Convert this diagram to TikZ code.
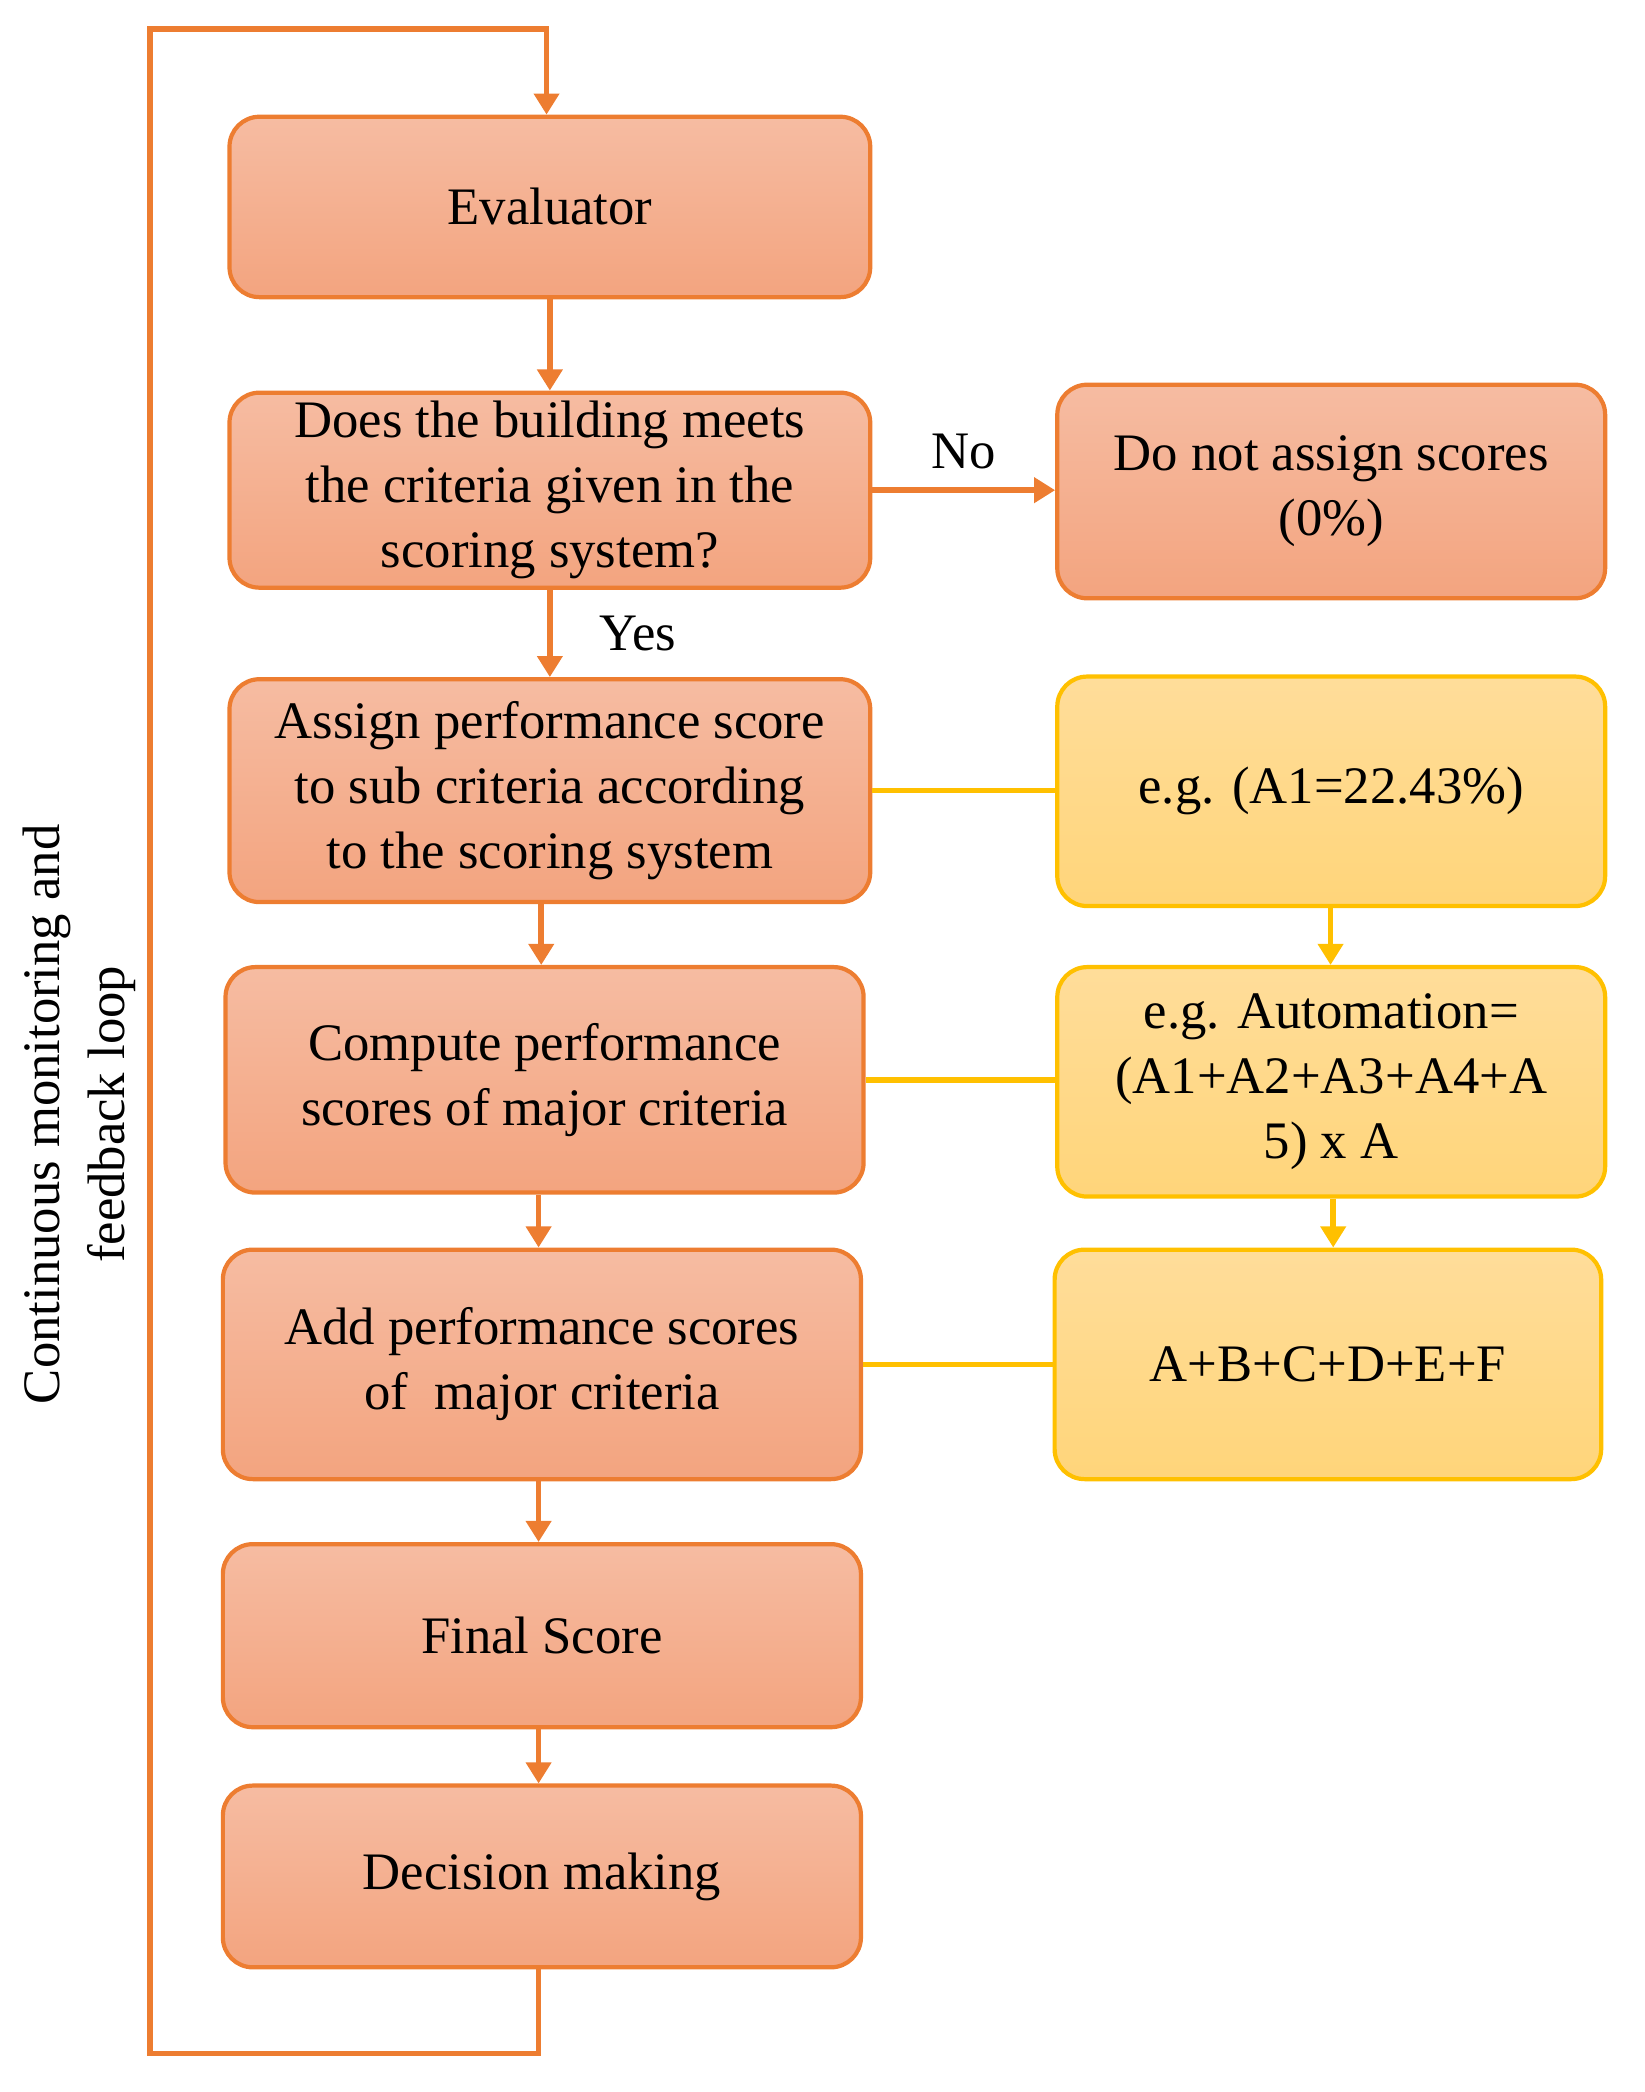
\documentclass[tikz,border=0pt]{standalone}
\usepackage{fontspec}
\setmainfont{Liberation Serif}
\usetikzlibrary{arrows.meta}
\definecolor{ob}{HTML}{ED7D31}
\definecolor{otop}{HTML}{F6BCA2}
\definecolor{obot}{HTML}{F3A47F}
\definecolor{yb}{HTML}{FFC000}
\definecolor{ytop}{HTML}{FFDD9A}
\definecolor{ybot}{HTML}{FFD57A}
\begin{document}
\begin{tikzpicture}[x=0.01327cm,y=-0.01327cm,
 box/.style={draw=ob,line width=1.2pt,rounded corners=0.3cm,top color=otop,bottom color=obot,align=center,font=\fontsize{15}{18.5}\selectfont,inner sep=0pt},
 ybox/.style={box,draw=yb,top color=ytop,bottom color=ybot},
 arr/.style={draw=ob,line width=1.6pt,-{Triangle[length=6pt,width=7pt]}},
 yarr/.style={draw=yb,line width=1.6pt,-{Triangle[length=6pt,width=7pt]}},
 yl/.style={draw=yb,line width=1.6pt}]
\useasboundingbox (0,0) rectangle (1240,1577);
\newcommand{\bx}[6]{\node[#1,minimum width={(#4-#3)*0.01327cm},minimum height={(#6-#5)*0.01327cm}] (#2) at ({(#3+#4)/2},{(#5+#6)/2})}
\bx{box}{ev}{173}{656}{88}{224} {Evaluator};
\bx{box}{q}{173}{656}{296}{443} {Does the building meets\\the criteria given in the\\scoring system?};
\bx{box}{no}{797}{1210}{290}{451} {Do not assign scores\\(0\%)};
\bx{box}{as}{173}{656}{512}{680} {Assign performance score\\to sub criteria according\\to the scoring system};
\bx{ybox}{e1}{797}{1210}{510}{683} {e.g. (A1=22.43\%)};
\bx{box}{co}{170}{651}{729}{899} {Compute performance\\scores of major criteria};
\bx{ybox}{au}{797}{1210}{729}{902} {e.g. Automation=\\(A1+A2+A3+A4+A\\5) x A};
\bx{box}{ad}{168}{649}{942}{1115} {Add performance scores\\of\ \ major criteria};
\bx{ybox}{ab}{795}{1207}{942}{1115} {A+B+C+D+E+F};
\bx{box}{fi}{168}{649}{1164}{1302} {Final Score};
\bx{box}{de}{168}{649}{1346}{1483} {Decision making};
\draw[arr] (ev.south) -- (q.north);
\draw[arr] (q.east) -- node[above,font=\fontsize{15}{18}\selectfont,black,yshift=2pt]{No} (no.west |- q.east);
\draw[arr] (q.south) -- node[right,font=\fontsize{15}{18}\selectfont,black,xshift=10pt]{Yes} (as.north);
\draw[arr] (as.south -| 408,0) -- (co.north -| 408,0);
\draw[arr] (co.south -| 406,0) -- (ad.north -| 406,0);
\draw[arr] (ad.south -| 406,0) -- (fi.north -| 406,0);
\draw[arr] (fi.south -| 406,0) -- (de.north -| 406,0);
\draw[yl] (as.east) -- (e1.west |- as.east);
\draw[yl] (co.east) -- (au.west |- co.east);
\draw[yl] (ad.east) -- (ab.west |- ad.east);
\draw[yarr] (e1.south -| 1003,0) -- (au.north -| 1003,0);
\draw[yarr] (au.south -| 1005,0) -- (ab.north -| 1005,0);
\coordinate (l1) at (406,1548); \coordinate (l2) at (113,1548);
\coordinate (l3) at (113,22); \coordinate (l4) at (412,22);
\draw[arr] (de.south -| 406,0) -- (l1) -- (l2) -- (l3) -- (l4) -- (ev.north -| 412,0);
\node[rotate=90,align=center,font=\fontsize{15}{18.5}\selectfont] (lp) at (60,840) {Continuous monitoring and\\feedback loop};
\end{tikzpicture}
\end{document}
